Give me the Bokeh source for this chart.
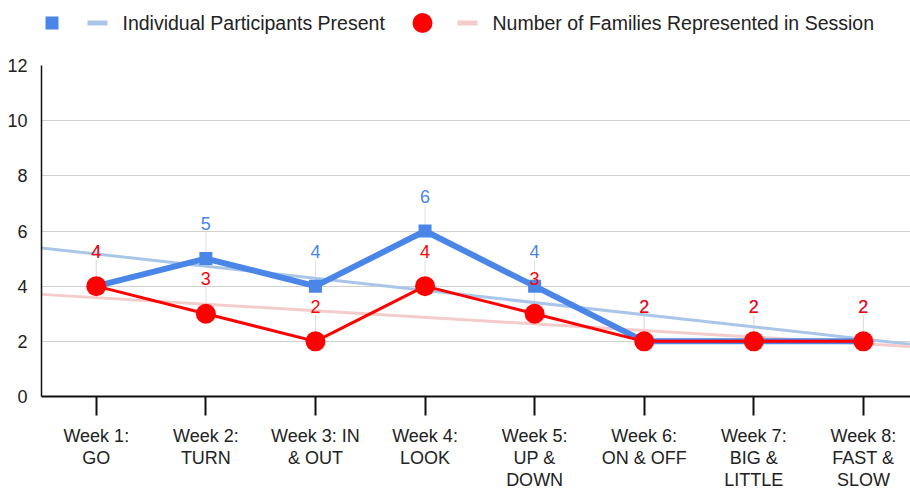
import numpy as np
from bokeh.plotting import figure
from bokeh.layouts import column
from bokeh.models import Range1d, FixedTicker
from bokeh.core.properties import value
from bokeh.embed import file_html
from bokeh.resources import INLINE

# ---- data ----
weeks = [1, 2, 3, 4, 5, 6, 7, 8]
week_labels = ["Week 1:\nGO", "Week 2:\nTURN", "Week 3: IN\n& OUT", "Week 4:\nLOOK",
               "Week 5:\nUP &\nDOWN", "Week 6:\nON & OFF", "Week 7:\nBIG &\nLITTLE",
               "Week 8:\nFAST &\nSLOW"]
participants = [4, 5, 4, 6, 4, 2, 2, 2]
families = [4, 3, 2, 4, 3, 2, 2, 2]
y_ticks = [0, 2, 4, 6, 8, 10, 12]
series_names = ["Individual Participants Present", "Number of Families Represented in Session"]

FONT = "Liberation Sans"
BLUE = "#4a86e8"
RED = "#ff0000"
BLUE_TREND = "#a9c6e8"
RED_TREND = "#f4cccc"
TXT = "#222222"

# linear trendlines (least squares fit of the series)
xw = np.array(weeks, dtype=float)
kp = np.polyfit(xw, np.array(participants, dtype=float), 1)
kf = np.polyfit(xw, np.array(families, dtype=float), 1)
tx = [0.5, 8.5]

W = 910
H = 492
LH = 44
FL = 41  # left edge of plot frame (px)

# ---- legend strip (frame is aligned with the chart frame below) ----
leg = figure(width=W, height=LH, x_range=Range1d(FL, W), y_range=Range1d(LH, 0),
             x_axis_location=None, y_axis_location=None,
             output_backend="svg", toolbar_location=None,
             min_border=0, min_border_left=FL, outline_line_color=None)
leg.grid.visible = False
leg.scatter([51.5], [22.5], marker="square", size=13, color=BLUE, line_color=None)
leg.line([87, 107], [22.5, 22.5], line_color=BLUE_TREND, line_width=5)
leg.text([122], [22.5], text=[series_names[0]], text_font=value(FONT), text_font_size="19.5px",
         text_color=TXT, text_baseline="middle", text_align="left")
leg.scatter([422], [22.5], marker="circle", size=20, color=RED, line_color=None)
leg.line([457, 477], [22.5, 22.5], line_color=RED_TREND, line_width=5)
leg.text([492], [22.5], text=[series_names[1]], text_font=value(FONT), text_font_size="19.5px",
         text_color=TXT, text_baseline="middle", text_align="left")

# ---- main chart ----
p = figure(width=W, height=H - LH, x_range=Range1d(0.5, 8.43), y_range=Range1d(0, 12),
           output_backend="svg", toolbar_location=None,
           min_border_top=21, min_border_left=FL, min_border_right=0, min_border_bottom=95,
           outline_line_color=None)

p.xgrid.visible = False
p.ygrid.grid_line_color = "#d0d0d0"
p.ygrid.grid_line_width = 1
p.yaxis.ticker = FixedTicker(ticks=y_ticks)
p.xaxis.ticker = FixedTicker(ticks=weeks)
p.xaxis.major_label_overrides = {w: lab for w, lab in zip(weeks, week_labels)}

for ax in (p.xaxis, p.yaxis):
    ax.axis_line_color = "#111111"
    ax.major_label_text_font = FONT
    ax.major_label_text_color = TXT
    ax.minor_tick_line_color = None

p.yaxis.axis_line_width = 1.5
p.yaxis.major_tick_line_color = None
p.yaxis.major_label_text_font_size = "18px"
p.yaxis.major_label_standoff = 8

p.xaxis.axis_line_width = 2
p.xaxis.major_tick_out = 19
p.xaxis.major_tick_in = 0
p.xaxis.major_tick_line_width = 2
p.xaxis.major_tick_line_color = "#111111"
p.xaxis.major_label_text_font_size = "18px"
p.xaxis.major_label_text_line_height = 1.1
p.xaxis.major_label_standoff = 10

# leader lines from data labels
p.segment(x0=weeks, y0=participants, x1=weeks, y1=[v + 0.95 for v in participants],
          line_color="#e0e0e0", line_width=1)
p.segment(x0=weeks, y0=families, x1=weeks, y1=[v + 0.95 for v in families],
          line_color="#e0e0e0", line_width=1)

# trendlines
p.line(tx, [kp[0] * x + kp[1] for x in tx], line_color=BLUE_TREND, line_width=3)
p.line(tx, [kf[0] * x + kf[1] for x in tx], line_color=RED_TREND, line_width=3)

# series
p.line(weeks, participants, line_color=BLUE, line_width=6, line_join="round")
p.scatter(weeks, participants, marker="square", size=13, color=BLUE, line_color=None)
p.line(weeks, families, line_color=RED, line_width=3, line_join="round")
p.scatter(weeks, families, marker="circle", size=20, color=RED, line_color=None)

# data labels
p.text(weeks, participants, text=[str(v) for v in participants], y_offset=-35,
       text_font=value(FONT), text_font_size="18px", text_color=BLUE,
       text_align="center", text_baseline="middle")
p.text(weeks, families, text=[str(v) for v in families], y_offset=-35,
       text_font=value(FONT), text_font_size="18px", text_color=RED,
       text_align="center", text_baseline="middle")

layout = column(leg, p, spacing=0)
open("out.html", "w").write(file_html(layout, INLINE))
